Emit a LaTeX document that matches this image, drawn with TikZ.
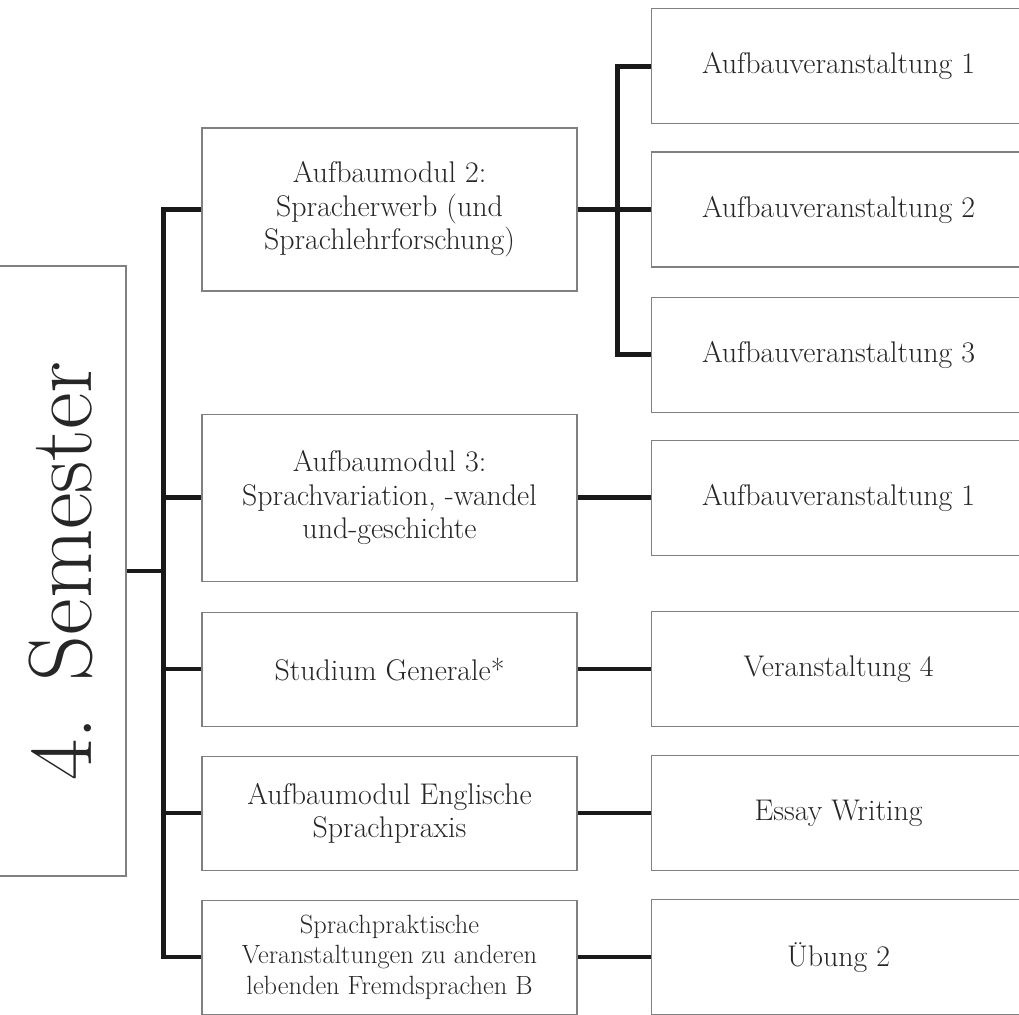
\documentclass[tikz,border=0pt]{standalone}
\usepackage{fontspec}
\usepackage{tikz}
\usetikzlibrary{positioning}
\tikzset{
  semester/.style={rectangle, rotate=90, minimum width=12.2cm, minimum height=2.6cm, inner sep=0pt, draw=black!50, line width=0.6pt, text=black!85, font=\fontsize{51}{51}\selectfont},
  modul/.style={rectangle, minimum width=7.5cm, align=center, draw=black!50, line width=0.6pt, text=black!85, font=\fontsize{17}{19}\selectfont},
  veranst/.style={rectangle, minimum width=7.5cm, minimum height=2.3cm, align=center, draw=black!50, line width=0.6pt, text=black!85, font=\fontsize{17}{19}\selectfont},
  conn/.style={line width=2.5pt, draw=black!90}
}
\begin{document}
\begin{tikzpicture}[node distance=0.58cm]
            \useasboundingbox (0,0) rectangle (20.38,-20.28);
            \clip (0,0) rectangle (20.38,-20.28);

            \node (sem4) [semester] at (1.22,-11.42) {4. Semester};

            % Module
            \node (mod2) [modul, minimum height=3.26cm] at (7.79,-4.19) {Aufbaumodul 2:\\ Spracherwerb (und\\ Sprachlehrforschung)};
            \node (mod3) [modul, minimum height=3.34cm, below=2.44cm of mod2] {Aufbaumodul 3:\\ Sprachvariation, -wandel\\ und-geschichte};
            \node (stud4) [modul, minimum height=2.28cm, below=0.6cm of mod3] {Studium Generale*};
            \node (engl4) [modul, minimum height=2.28cm, below=of stud4] {Aufbaumodul Englische\\ Sprachpraxis};
            \node (spr4) [modul, minimum height=2.28cm, below=of engl4, font=\fontsize{15}{17.5}\selectfont] {Sprachpraktische\\ Veranstaltungen zu anderen\\ lebenden Fremdsprachen B};

            % Veranstaltungen
            \node (auf2) [veranst, right=1.46cm of mod2] {Aufbauveranstaltung 2};
            \node (auf1) [veranst, above=0.54cm of auf2] {Aufbauveranstaltung 1};
            \node (auf3) [veranst, below=of auf2] {Aufbauveranstaltung 3};
            \node (aufb1) [veranst, right=1.46cm of mod3] {Aufbauveranstaltung 1};
            \node (ver4) [veranst, right=1.46cm of stud4] {Veranstaltung 4};
            \node (essay4) [veranst, right=1.46cm of engl4] {Essay Writing};
            \node (ueb2) [veranst, right=1.46cm of spr4] {Übung 2};

            % --- Verbindungen ---
            \coordinate (hub) at ([xshift=0.74cm]sem4.south);
            \draw [conn] (sem4.south) -- (hub);
            \draw [conn] (mod2.west) -| (hub) |- (spr4.west);
            \draw [conn] (hub |- mod3.west) -- (mod3.west);
            \draw [conn] (hub |- stud4.west) -- (stud4.west);
            \draw [conn] (hub |- engl4.west) -- (engl4.west);

            \coordinate (split) at ([xshift=-0.66cm]auf2.west);
            \draw [conn] (mod2.east) -- (auf2.west);
            \draw [conn] (auf1.west) -| (split) |- (auf3.west);
            \draw [conn] (mod3.east) -- (aufb1.west);
            \draw [conn] (stud4.east) -- (ver4.west);
            \draw [conn] (engl4.east) -- (essay4.west);
            \draw [conn] (spr4.east) -- (ueb2.west);
        \end{tikzpicture}
\end{document}
